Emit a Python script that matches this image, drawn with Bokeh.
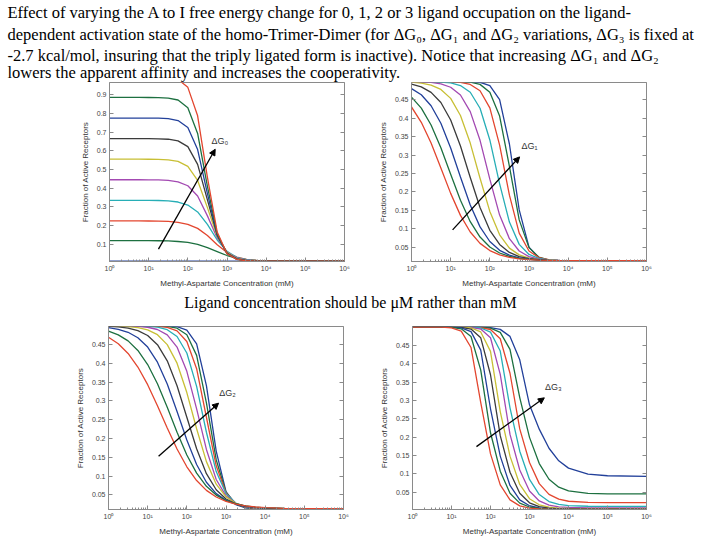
from bokeh.plotting import figure
from bokeh.models import Range1d, FixedTicker, LinearAxis, Arrow, NormalHead, Label
from bokeh.layouts import column, row
from bokeh.embed import file_html
from bokeh.resources import INLINE

# ---------------- data ----------------
log10_conc = [0, 0.25, 0.5, 0.75, 1.0, 1.25, 1.5, 1.75, 2.0, 2.25, 2.5, 2.75,
              3.0, 3.25, 3.5, 3.75, 4.0, 4.5, 5.0, 6.0]
conc_mM = [10 ** v for v in log10_conc]

# curve order: first = right-most / lowest, MATLAB 'lines' colour cycle
curve_colors = ["#22409a", "#1d7040", "#e3462f", "#27aeb6", "#a349b2",
                "#c8bf35", "#3b3b3b", "#22409a", "#1d7040", "#e3462f"]

dG0_curves = [
    [0.010] * 20,
    [0.12, 0.12, 0.12, 0.12, 0.12, 0.119, 0.118, 0.115, 0.110, 0.099, 0.082, 0.061, 0.040, 0.026, 0.018, 0.0136, 0.0117, 0.0103, 0.010, 0.010],
    [0.225, 0.225, 0.225, 0.225, 0.2245, 0.224, 0.222, 0.217, 0.207, 0.185, 0.147, 0.098, 0.056, 0.031, 0.019, 0.0137, 0.0115, 0.0102, 0.010, 0.010],
    [0.335, 0.335, 0.335, 0.335, 0.3346, 0.334, 0.332, 0.326, 0.310, 0.273, 0.206, 0.123, 0.062, 0.030, 0.0176, 0.0127, 0.011, 0.0101, 0.010, 0.010],
    [0.445, 0.445, 0.445, 0.445, 0.4447, 0.4439, 0.4416, 0.434, 0.413, 0.358, 0.252, 0.134, 0.0586, 0.0267, 0.0154, 0.0117, 0.0106, 0.010, 0.010, 0.010],
    [0.555, 0.555, 0.555, 0.555, 0.5547, 0.554, 0.5515, 0.543, 0.5166, 0.4415, 0.296, 0.142, 0.0565, 0.0243, 0.0142, 0.0113, 0.0104, 0.010, 0.010, 0.010],
    [0.665, 0.665, 0.665, 0.665, 0.6647, 0.6641, 0.6617, 0.6529, 0.622, 0.527, 0.3375, 0.1475, 0.0532, 0.0221, 0.0133, 0.0109, 0.0102, 0.010, 0.010, 0.010],
    [0.775, 0.775, 0.775, 0.775, 0.7748, 0.7742, 0.7716, 0.7616, 0.7245, 0.6067, 0.3714, 0.1504, 0.0509, 0.0207, 0.0128, 0.0107, 0.0101, 0.010, 0.010, 0.010],
    [0.885, 0.885, 0.885, 0.885, 0.8848, 0.8842, 0.8818, 0.8714, 0.8302, 0.6925, 0.410, 0.1555, 0.0496, 0.0196, 0.0124, 0.0105, 0.0101, 0.010, 0.010, 0.010],
    [0.995, 0.995, 0.995, 0.995, 0.9949, 0.9943, 0.992, 0.9819, 0.939, 0.787, 0.458, 0.165, 0.0496, 0.0192, 0.0121, 0.0104, 0.0101, 0.010, 0.010, 0.010],
]

dG1_curves = [
    [0.5, 0.5, 0.5, 0.5, 0.5, 0.5, 0.4995, 0.4976, 0.4886, 0.4503, 0.330, 0.151, 0.050, 0.0214, 0.0148, 0.0134, 0.013, 0.013, 0.013, 0.013],
    [0.5, 0.5, 0.5, 0.5, 0.5, 0.4994, 0.4979, 0.4919, 0.4708, 0.406, 0.269, 0.124, 0.0486, 0.023, 0.0157, 0.0137, 0.0131, 0.013, 0.013, 0.013],
    [0.5, 0.5, 0.5, 0.5, 0.4992, 0.4973, 0.4917, 0.4747, 0.428, 0.327, 0.191, 0.088, 0.0394, 0.0217, 0.0158, 0.0139, 0.0132, 0.013, 0.013, 0.013],
    [0.5, 0.4998, 0.4995, 0.4984, 0.4959, 0.4888, 0.4705, 0.427, 0.341, 0.222, 0.118, 0.0575, 0.0302, 0.0194, 0.0154, 0.0139, 0.0133, 0.013, 0.013, 0.013],
    [0.4995, 0.4989, 0.4973, 0.4934, 0.4841, 0.463, 0.418, 0.340, 0.2346, 0.137, 0.073, 0.0395, 0.0242, 0.0177, 0.0149, 0.0138, 0.0133, 0.013, 0.013, 0.013],
    [0.498, 0.4955, 0.490, 0.4782, 0.4539, 0.4075, 0.3325, 0.237, 0.147, 0.0836, 0.0473, 0.029, 0.0203, 0.0163, 0.0145, 0.0136, 0.0132, 0.013, 0.013, 0.013],
    [0.4926, 0.485, 0.4703, 0.4427, 0.3953, 0.3247, 0.239, 0.1576, 0.0958, 0.0573, 0.0356, 0.0243, 0.0186, 0.0157, 0.0143, 0.0136, 0.0133, 0.013, 0.013, 0.013],
    [0.4805, 0.4636, 0.434, 0.3865, 0.3193, 0.2404, 0.1645, 0.105, 0.0653, 0.0414, 0.0281, 0.0209, 0.0171, 0.0151, 0.0141, 0.0136, 0.0133, 0.013, 0.013, 0.013],
    [0.4574, 0.4274, 0.3817, 0.320, 0.2477, 0.1771, 0.119, 0.0773, 0.0503, 0.0341, 0.0247, 0.0195, 0.0166, 0.015, 0.0141, 0.0136, 0.0133, 0.013, 0.013, 0.013],
    [0.4306, 0.389, 0.3325, 0.2648, 0.196, 0.1362, 0.091, 0.0602, 0.0407, 0.029, 0.0221, 0.0182, 0.0159, 0.0147, 0.0139, 0.0135, 0.0133, 0.013, 0.013, 0.013],
]

dG2_curves = [
    [0.5, 0.5, 0.5, 0.5, 0.5, 0.5, 0.4994, 0.4974, 0.4883, 0.452, 0.3407, 0.1664, 0.0584, 0.024, 0.0155, 0.0136, 0.013, 0.013, 0.013, 0.013],
    [0.5, 0.5, 0.5, 0.5, 0.5, 0.4995, 0.4982, 0.4934, 0.4761, 0.4211, 0.295, 0.1435, 0.0562, 0.0253, 0.0163, 0.0139, 0.0132, 0.013, 0.013, 0.013],
    [0.5, 0.5, 0.5, 0.5, 0.4996, 0.4987, 0.4957, 0.4863, 0.458, 0.3856, 0.2565, 0.1274, 0.055, 0.0267, 0.0173, 0.0143, 0.0134, 0.013, 0.013, 0.013],
    [0.5, 0.5, 0.5, 0.4995, 0.4986, 0.4962, 0.4895, 0.4715, 0.4274, 0.3388, 0.2166, 0.1119, 0.0533, 0.0281, 0.0185, 0.0149, 0.0137, 0.013, 0.013, 0.013],
    [0.5, 0.4997, 0.4994, 0.4984, 0.496, 0.49, 0.4757, 0.4433, 0.3787, 0.279, 0.1708, 0.0909, 0.0473, 0.0273, 0.0188, 0.0153, 0.0139, 0.013, 0.013, 0.013],
    [0.4995, 0.499, 0.4978, 0.4951, 0.4891, 0.4762, 0.4498, 0.4004, 0.3222, 0.2258, 0.1384, 0.0783, 0.0445, 0.0276, 0.0196, 0.016, 0.0143, 0.0132, 0.013, 0.013],
    [0.4984, 0.4968, 0.4936, 0.487, 0.4741, 0.4496, 0.4066, 0.3405, 0.2565, 0.1725, 0.1064, 0.0635, 0.0389, 0.026, 0.0194, 0.0162, 0.0146, 0.0133, 0.013, 0.013],
    [0.495, 0.4906, 0.4826, 0.4681, 0.4433, 0.4031, 0.3451, 0.272, 0.1961, 0.1309, 0.0836, 0.0533, 0.0353, 0.0251, 0.0195, 0.0165, 0.0149, 0.0135, 0.013, 0.013],
    [0.4857, 0.4758, 0.4597, 0.4343, 0.3968, 0.3456, 0.283, 0.2166, 0.1562, 0.1077, 0.0727, 0.0494, 0.0348, 0.0258, 0.0205, 0.0174, 0.0155, 0.0139, 0.0133, 0.013],
    [0.4693, 0.4519, 0.4263, 0.3901, 0.3432, 0.2873, 0.2279, 0.172, 0.1247, 0.088, 0.0619, 0.0442, 0.0326, 0.0252, 0.0205, 0.0177, 0.0159, 0.0141, 0.0134, 0.013],
]

dG3_curves = [
    [0.5, 0.5, 0.5, 0.5, 0.5, 0.5, 0.5, 0.4997, 0.4985, 0.4937, 0.4745, 0.4105, 0.288, 0.2216, 0.1695, 0.1353, 0.1153, 0.0989, 0.0945, 0.093],
    [0.5, 0.5, 0.5, 0.5, 0.5, 0.5, 0.4998, 0.4993, 0.4969, 0.4856, 0.439, 0.3077, 0.1992, 0.1278, 0.085, 0.0633, 0.0531, 0.0465, 0.0453, 0.045],
    [0.5, 0.5, 0.5, 0.5, 0.5, 0.4999, 0.4997, 0.4987, 0.4933, 0.4682, 0.374, 0.2222, 0.1307, 0.073, 0.0438, 0.0306, 0.025, 0.0217, 0.021, 0.021],
    [0.5, 0.5, 0.5, 0.5, 0.4999, 0.4997, 0.4995, 0.4974, 0.4862, 0.4345, 0.2799, 0.1615, 0.0845, 0.0432, 0.0243, 0.0164, 0.0132, 0.0113, 0.011, 0.011],
    [0.5, 0.5, 0.5, 0.5, 0.4999, 0.4998, 0.499, 0.4946, 0.4708, 0.3708, 0.2072, 0.1102, 0.0528, 0.0258, 0.0144, 0.0099, 0.0081, 0.0071, 0.007, 0.007],
    [0.5, 0.5, 0.5, 0.5, 0.4999, 0.4996, 0.4976, 0.4867, 0.4337, 0.2696, 0.148, 0.0707, 0.0319, 0.0154, 0.009, 0.0065, 0.0055, 0.005, 0.005, 0.005],
    [0.5, 0.5, 0.5, 0.5, 0.4998, 0.499, 0.4945, 0.4706, 0.3699, 0.2038, 0.1041, 0.0468, 0.0207, 0.0101, 0.006, 0.0044, 0.0038, 0.0035, 0.0035, 0.0035],
    [0.5, 0.5, 0.5, 0.5, 0.4996, 0.4977, 0.4876, 0.4372, 0.2772, 0.1481, 0.0681, 0.0288, 0.0128, 0.0066, 0.0043, 0.0035, 0.003, 0.003, 0.003, 0.003],
    [0.5, 0.5, 0.5, 0.5, 0.4992, 0.4952, 0.4742, 0.3827, 0.2117, 0.107, 0.0467, 0.0199, 0.0093, 0.0053, 0.0038, 0.003, 0.003, 0.003, 0.003, 0.003],
    [0.5, 0.5, 0.5, 0.4996, 0.498, 0.4891, 0.4443, 0.2942, 0.1541, 0.0696, 0.0288, 0.0125, 0.0064, 0.0042, 0.0034, 0.003, 0.003, 0.003, 0.003, 0.003],
]

x_ticks = [1, 10, 100, 1000, 10000, 100000, 1000000]
x_tick_labels = ["10\u2070", "10\u00b9", "10\u00b2", "10\u00b3", "10\u2074", "10\u2075", "10\u2076"]
y_ticks_a = [0.1, 0.2, 0.3, 0.4, 0.5, 0.6, 0.7, 0.8, 0.9]
y_labels_a = ["0.1", "0.2", "0.3", "0.4", "0.5", "0.6", "0.7", "0.8", "0.9"]
y_ticks_b = [0.05, 0.1, 0.15, 0.2, 0.25, 0.3, 0.35, 0.4, 0.45]
y_labels_b = ["0.05", "0.1", "0.15", "0.2", "0.25", "0.3", "0.35", "0.4", "0.45"]

# arrows: (x_start, y_start, x_end, y_end), label position
arrow_dG0 = (17.8, 0.074, 500, 0.608)
arrow_dG1 = (11.2, 0.097, 575, 0.295)
arrow_dG2 = (19.0, 0.153, 646, 0.294)
arrow_dG3 = (43.6, 0.174, 2400, 0.307)
label_dG0 = (400, 0.625, "\u0394G\u2080")
label_dG1 = (640, 0.31, "\u0394G\u2081")
label_dG2 = (670, 0.307, "\u0394G\u2082")
label_dG3 = (2500, 0.322, "\u0394G\u2083")

title_lines = [
    "Effect of varying the A to I free energy change for 0, 1, 2 or 3 ligand occupation on the ligand-",
    "dependent activation state of the homo-Trimer-Dimer (for \u0394G\u2080, \u0394G\u2081 and \u0394G\u2082 variations, \u0394G\u2083 is fixed at",
    "-2.7 kcal/mol, insuring that the triply ligated form is inactive).  Notice that increasing \u0394G\u2081 and \u0394G\u2082",
    "lowers the apparent affinity and increases the cooperativity.",
]
title_line_y = [12, 34, 55, 72]
middle_note = "Ligand concentration should be \u03bcM rather than mM"

AX = "#8a8a8a"
LBL = "#444444"
SANS = "Liberation Sans"
SERIF = "Liberation Serif"


def make_panel(curves, yr, yticks, ylabels, height, left, right, top, bottom, arrow, label):
    p = figure(width=360, height=height, x_axis_type="log",
               x_range=Range1d(1, 1e6), y_range=Range1d(*yr),
               output_backend="svg", toolbar_location=None,
               min_border_left=left, min_border_right=right,
               min_border_top=top, min_border_bottom=bottom,
               background_fill_color="white", border_fill_color="white")
    p.grid.visible = False
    p.outline_line_color = AX
    p.outline_line_width = 1
    for ys, c in zip(curves, curve_colors):
        p.line(conc_mM, ys, line_color=c, line_width=1.3)

    minor = [k * 10 ** d for d in range(6) for k in range(2, 10)]
    xa = p.xaxis[0]
    xa.ticker = FixedTicker(ticks=x_ticks, minor_ticks=minor)
    xa.major_label_overrides = {float(t): s for t, s in zip(x_ticks, x_tick_labels)}
    ya = p.yaxis[0]
    ya.ticker = FixedTicker(ticks=yticks)
    ya.major_label_overrides = {float(t): s for t, s in zip(yticks, ylabels)}
    for ax in (xa, ya):
        ax.axis_line_color = AX
        ax.major_tick_line_color = AX
        ax.minor_tick_line_color = AX
        ax.major_tick_in = 4
        ax.major_tick_out = 0
        ax.minor_tick_in = 2
        ax.minor_tick_out = 0
        ax.major_label_text_font = SANS
        ax.major_label_text_font_size = "7px"
        ax.major_label_text_color = LBL
        ax.axis_label_text_font = SANS
        ax.axis_label_text_font_size = "8px"
        ax.axis_label_text_font_style = "normal"
        ax.axis_label_text_color = "#333333"
        ax.major_label_standoff = 3
        ax.axis_label_standoff = 4
    ya.minor_tick_line_color = None
    xa.axis_label = "Methyl-Aspartate Concentration (mM)"
    ya.axis_label = "Fraction of Active Receptors"

    ra = LinearAxis(ticker=FixedTicker(ticks=yticks),
                    major_label_overrides={float(t): "" for t in yticks},
                    axis_line_color=AX, major_tick_line_color=AX,
                    major_tick_in=4, major_tick_out=0, minor_tick_line_color=None,
                    major_label_standoff=0, major_label_text_font_size="1px")
    p.add_layout(ra, "right")

    x0, y0, x1, y1 = arrow
    p.add_layout(Arrow(end=NormalHead(size=6, fill_color="black", line_color="black"),
                       x_start=x0, y_start=y0, x_end=x1, y_end=y1,
                       line_color="black", line_width=1.3))
    lx, ly, txt = label
    p.add_layout(Label(x=lx, y=ly, text=txt, text_font=SANS, text_font_size="9px",
                       text_color="#333333", text_baseline="bottom", text_align="left"))
    return p


def text_strip(h):
    f = figure(width=720, height=h, x_range=Range1d(0, 720), y_range=Range1d(h, 0),
               output_backend="svg", toolbar_location=None,
               x_axis_location=None, y_axis_location=None,
               min_border_left=0, min_border_right=0, min_border_top=0, min_border_bottom=0,
               background_fill_color="white", border_fill_color="white")
    f.grid.visible = False
    f.outline_line_color = None
    return f


title_fig = text_strip(82)
for line, ly in zip(title_lines, title_line_y):
    title_fig.add_layout(Label(x=7, y=ly, text=line, text_font=SERIF,
                               text_font_size="16.5px", text_color="black",
                               text_baseline="middle", text_align="left"))

mid_fig = text_strip(28)
mid_fig.add_layout(Label(x=350, y=12, text=middle_note, text_font=SERIF,
                         text_font_size="16px", text_color="black",
                         text_baseline="middle", text_align="center"))

p1 = make_panel(dG0_curves, (0.008, 0.965), y_ticks_a, y_labels_a, 208, 109, 16, 0, 28, arrow_dG0, label_dG0)
p2 = make_panel(dG1_curves, (0.011, 0.497), y_ticks_b, y_labels_b, 208, 51, 74, 0, 27, arrow_dG1, label_dG1)
p3 = make_panel(dG2_curves, (0.011, 0.498), y_ticks_b, y_labels_b, 222, 108, 17, 8, 31, arrow_dG2, label_dG2)
p4 = make_panel(dG3_curves, (0.0025, 0.5015), y_ticks_b, y_labels_b, 222, 52, 74, 7, 31, arrow_dG3, label_dG3)

layout = column(title_fig, row(p1, p2), mid_fig, row(p3, p4))

open("out.html", "w").write(file_html(layout, INLINE))
